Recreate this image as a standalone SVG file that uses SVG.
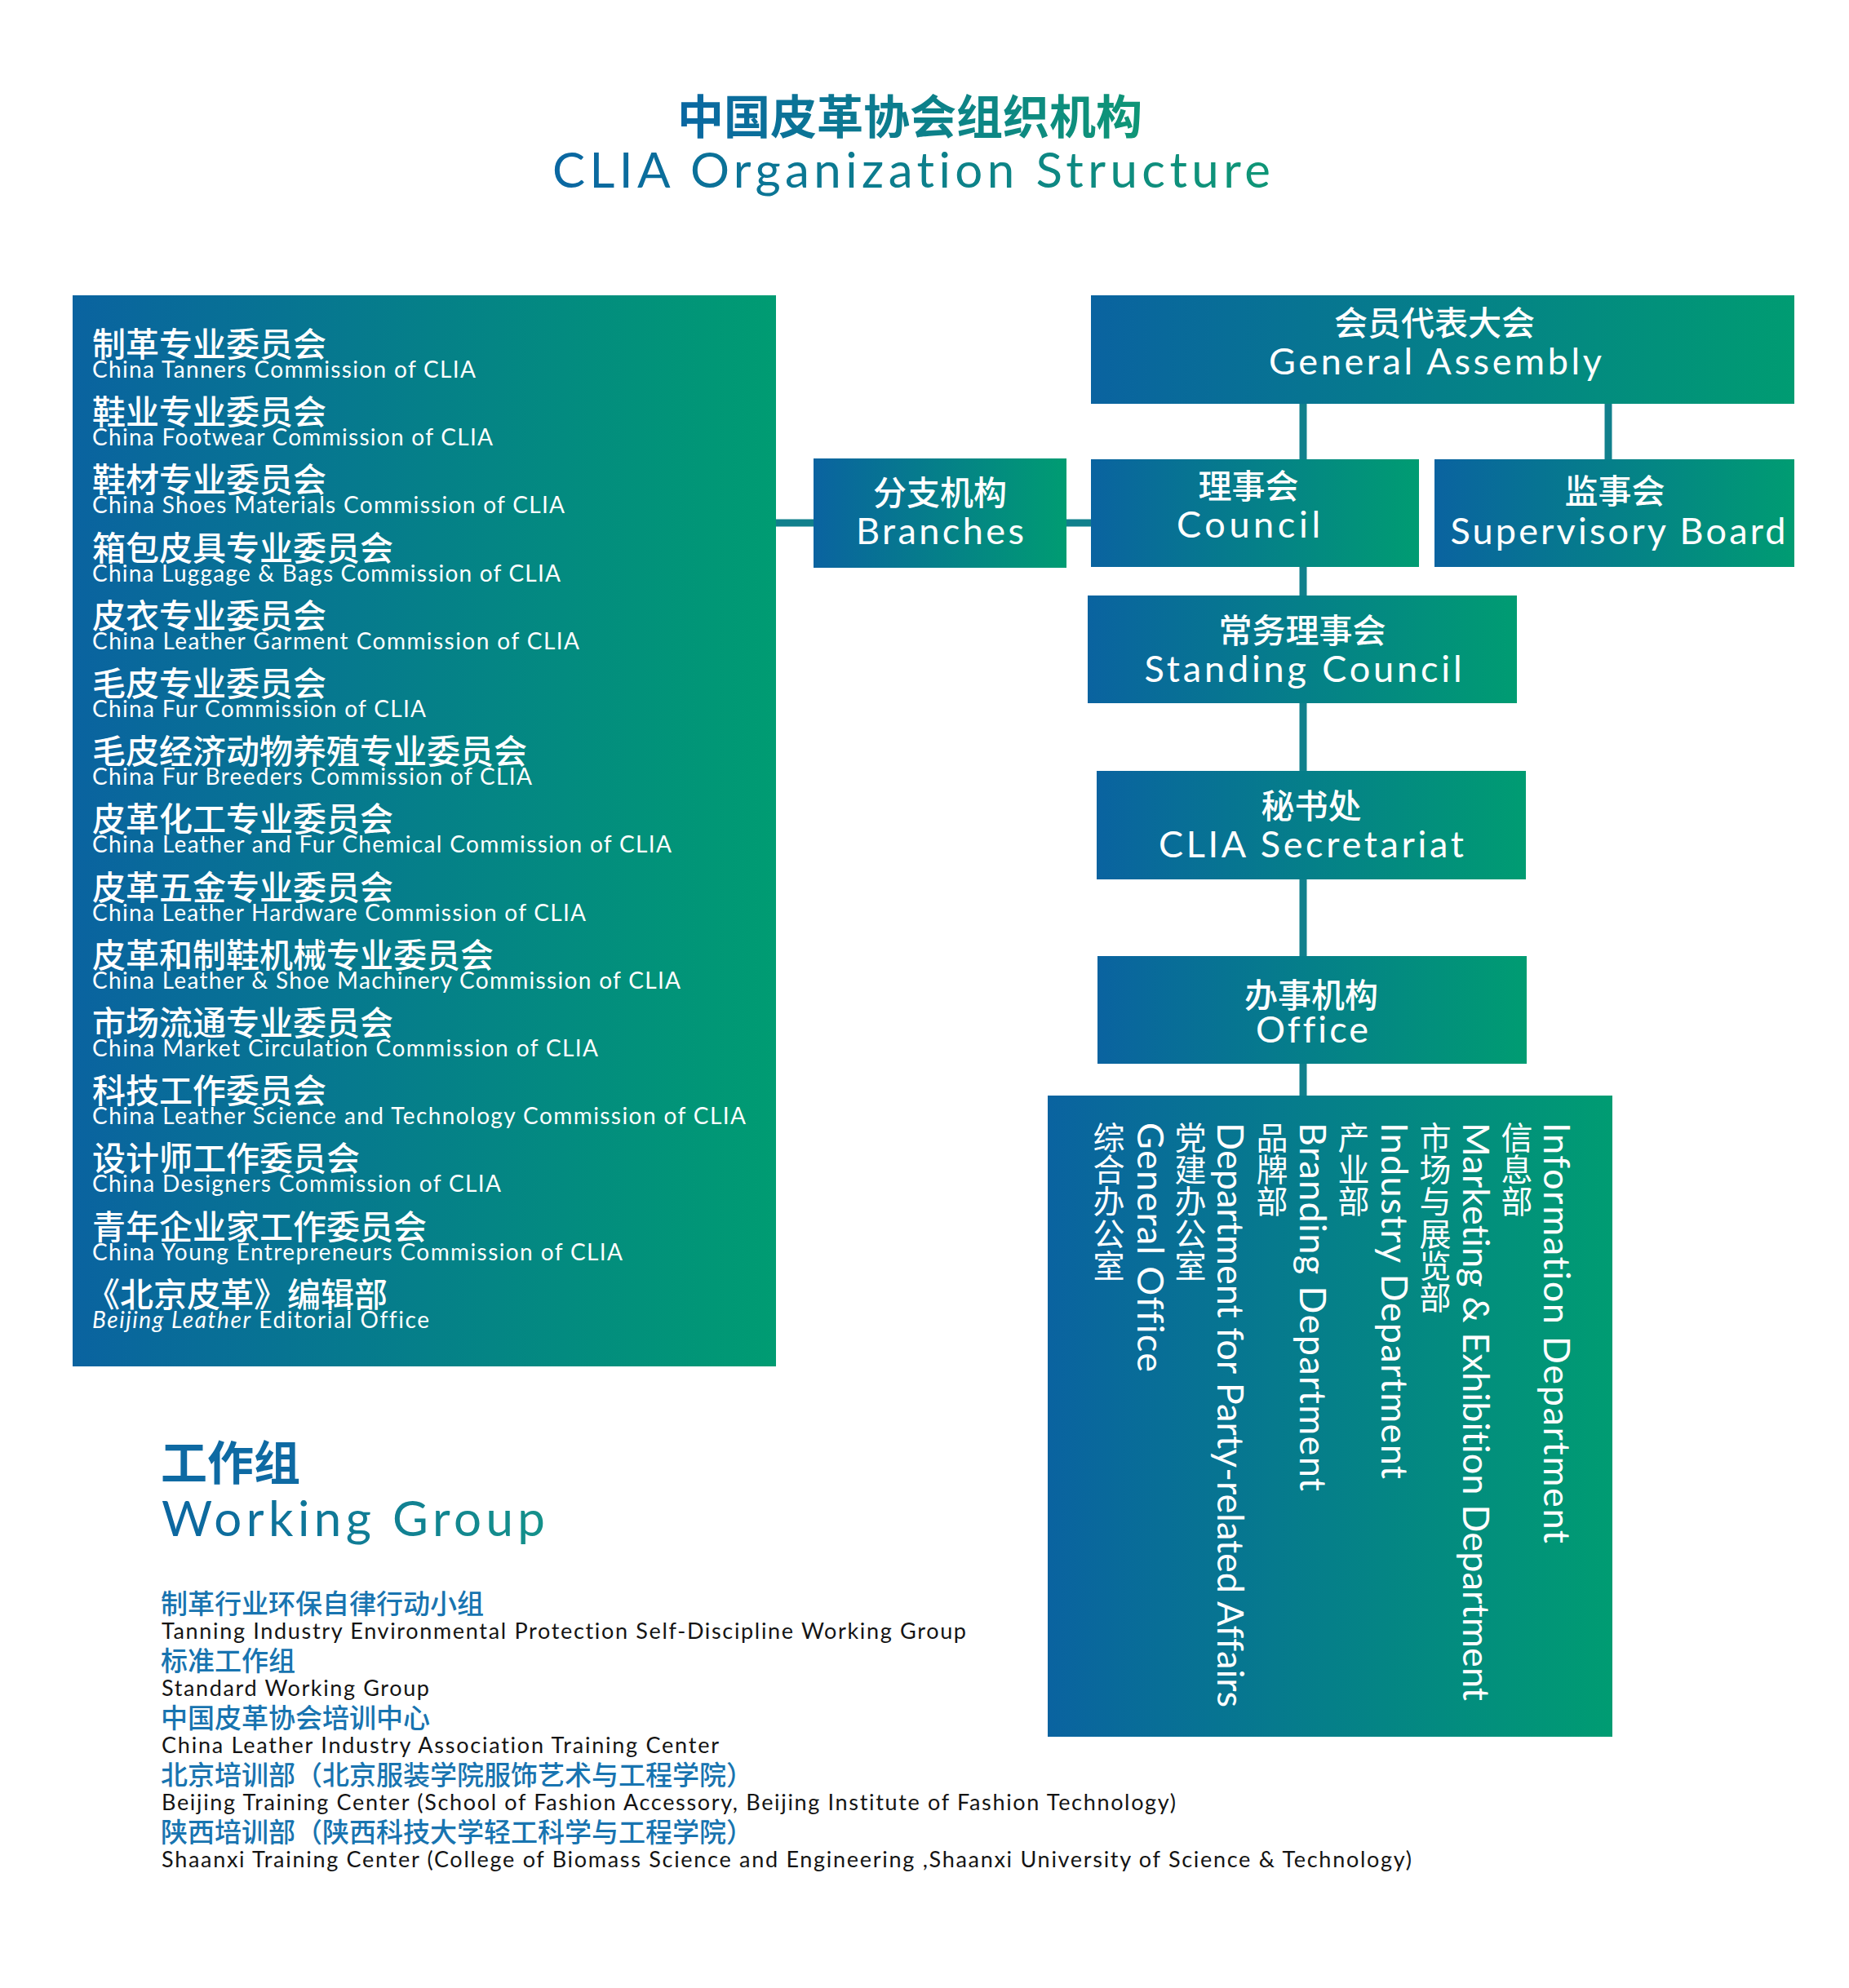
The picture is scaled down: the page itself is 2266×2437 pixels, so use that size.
<svg xmlns="http://www.w3.org/2000/svg" width="2266" height="2437" viewBox="0 0 2266 2437">
<defs>
<linearGradient id="bg" x1="0" y1="0" x2="1" y2="0"><stop offset="0" stop-color="#0a63a0"/><stop offset="1" stop-color="#009c72"/></linearGradient>
<linearGradient id="tg" x1="0" y1="0" x2="1" y2="0"><stop offset="0" stop-color="#0a67a2"/><stop offset="1" stop-color="#0f9676"/></linearGradient>
<linearGradient id="wg" x1="0" y1="0" x2="1" y2="0"><stop offset="0" stop-color="#0c66a1"/><stop offset="1" stop-color="#14918a"/></linearGradient>
<style>
text{font-variant-ligatures:none}
.box{fill:url(#bg)}
.cn{font-family:"Noto Sans CJK SC",sans-serif;fill:#fff}
.en{font-family:"Lato","Noto Sans",sans-serif;fill:#fff}
.bc{font-size:41px;font-weight:500;text-anchor:middle}
.be{font-size:45px;text-anchor:middle}
.lc{font-size:41px;font-weight:500}
.le{font-size:28px}
.dc{font-size:39px;text-anchor:middle}
.de{font-size:45px}
.wc{font-family:"Noto Sans CJK SC",sans-serif;font-size:33px;font-weight:500;fill:#1874b0}
.we{font-family:"Lato","Noto Sans",sans-serif;font-size:27px;fill:#141414}
.conn{stroke:#11808c;stroke-width:9;fill:none}
</style>
</defs>
<rect width="2266" height="2437" fill="#fff"/>

<g id="title">
<text x="1115" y="164" font-family="Noto Sans CJK SC, sans-serif" font-size="57" font-weight="700" fill="url(#tg)" text-anchor="middle">中国皮革协会组织机构</text>
<text x="1117" y="230" font-family="Lato, Noto Sans, sans-serif" font-size="60" fill="url(#tg)" text-anchor="middle" textLength="880" lengthAdjust="spacing">CLIA Organization Structure</text>
</g>

<g id="connectors">
<line class="conn" x1="951" y1="641" x2="997" y2="641"/>
<line class="conn" x1="1307" y1="641" x2="1337" y2="641"/>
<line class="conn" x1="1597" y1="495" x2="1597" y2="563"/>
<line class="conn" x1="1971" y1="495" x2="1971" y2="563"/>
<line class="conn" x1="1597" y1="695" x2="1597" y2="730"/>
<line class="conn" x1="1597" y1="862" x2="1597" y2="945"/>
<line class="conn" x1="1597" y1="1078" x2="1597" y2="1172"/>
<line class="conn" x1="1597" y1="1304" x2="1597" y2="1343"/>
</g>

<g id="node-commissions">
<rect class="box" x="89" y="362" width="862" height="1313"/>
<text class="cn lc" x="113" y="437">制革专业委员会</text>
<text class="en le" x="113" y="463" textLength="470" lengthAdjust="spacing">China Tanners Commission of CLIA</text>
<text class="cn lc" x="113" y="520.2">鞋业专业委员会</text>
<text class="en le" x="113" y="546.2" textLength="491" lengthAdjust="spacing">China Footwear Commission of CLIA</text>
<text class="cn lc" x="113" y="603.4">鞋材专业委员会</text>
<text class="en le" x="113" y="629.4" textLength="579" lengthAdjust="spacing">China Shoes Materials Commission of CLIA</text>
<text class="cn lc" x="113" y="686.6">箱包皮具专业委员会</text>
<text class="en le" x="113" y="712.6" textLength="574" lengthAdjust="spacing">China Luggage &amp; Bags Commission of CLIA</text>
<text class="cn lc" x="113" y="769.8">皮衣专业委员会</text>
<text class="en le" x="113" y="795.8" textLength="597" lengthAdjust="spacing">China Leather Garment Commission of CLIA</text>
<text class="cn lc" x="113" y="853">毛皮专业委员会</text>
<text class="en le" x="113" y="879" textLength="409" lengthAdjust="spacing">China Fur Commission of CLIA</text>
<text class="cn lc" x="113" y="936.2">毛皮经济动物养殖专业委员会</text>
<text class="en le" x="113" y="962.2" textLength="539" lengthAdjust="spacing">China Fur Breeders Commission of CLIA</text>
<text class="cn lc" x="113" y="1019.4">皮革化工专业委员会</text>
<text class="en le" x="113" y="1045.4" textLength="710" lengthAdjust="spacing">China Leather and Fur Chemical Commission of CLIA</text>
<text class="cn lc" x="113" y="1102.6">皮革五金专业委员会</text>
<text class="en le" x="113" y="1128.6" textLength="605" lengthAdjust="spacing">China Leather Hardware Commission of CLIA</text>
<text class="cn lc" x="113" y="1185.8">皮革和制鞋机械专业委员会</text>
<text class="en le" x="113" y="1211.8" textLength="721" lengthAdjust="spacing">China Leather &amp; Shoe Machinery Commission of CLIA</text>
<text class="cn lc" x="113" y="1269">市场流通专业委员会</text>
<text class="en le" x="113" y="1295" textLength="620" lengthAdjust="spacing">China Market Circulation Commission of CLIA</text>
<text class="cn lc" x="113" y="1352.2">科技工作委员会</text>
<text class="en le" x="113" y="1378.2" textLength="801" lengthAdjust="spacing">China Leather Science and Technology Commission of CLIA</text>
<text class="cn lc" x="113" y="1435.4">设计师工作委员会</text>
<text class="en le" x="113" y="1461.4" textLength="501" lengthAdjust="spacing">China Designers Commission of CLIA</text>
<text class="cn lc" x="113" y="1518.6">青年企业家工作委员会</text>
<text class="en le" x="113" y="1544.6" textLength="650" lengthAdjust="spacing">China Young Entrepreneurs Commission of CLIA</text>
<text class="cn lc" x="106" y="1601.8">《北京皮革》编辑部</text>
<text class="en le" x="113" y="1627.8" textLength="413" lengthAdjust="spacing"><tspan font-style="italic">Beijing Leather</tspan> Editorial Office</text>
</g>

<g id="node-branches">
<rect class="box" x="997" y="562" width="310" height="134"/>
<text class="cn bc" x="1152" y="619">分支机构</text>
<text class="en be" x="1152" y="667" textLength="206" lengthAdjust="spacing">Branches</text>
</g>

<g id="node-general-assembly">
<rect class="box" x="1337" y="362" width="862" height="133"/>
<text class="cn bc" x="1758" y="411">会员代表大会</text>
<text class="en be" x="1759" y="459" textLength="408" lengthAdjust="spacing">General Assembly</text>
</g>

<g id="node-council">
<rect class="box" x="1337" y="563" width="402" height="132"/>
<text class="cn bc" x="1530" y="611">理事会</text>
<text class="en be" x="1530" y="659" textLength="176" lengthAdjust="spacing">Council</text>
</g>

<g id="node-supervisory-board">
<rect class="box" x="1758" y="563" width="441" height="132"/>
<text class="cn bc" x="1979" y="617">监事会</text>
<text class="en be" x="1983" y="667" textLength="411" lengthAdjust="spacing">Supervisory Board</text>
</g>

<g id="node-standing-council">
<rect class="box" x="1333" y="730" width="526" height="132"/>
<text class="cn bc" x="1596" y="788">常务理事会</text>
<text class="en be" x="1597" y="836" textLength="389" lengthAdjust="spacing">Standing Council</text>
</g>

<g id="node-secretariat">
<rect class="box" x="1344" y="945" width="526" height="133"/>
<text class="cn bc" x="1607" y="1003">秘书处</text>
<text class="en be" x="1607" y="1051" textLength="374" lengthAdjust="spacing">CLIA Secretariat</text>
</g>

<g id="node-office">
<rect class="box" x="1345" y="1172" width="526" height="132"/>
<text class="cn bc" x="1607" y="1235">办事机构</text>
<text class="en be" x="1608" y="1278" textLength="138" lengthAdjust="spacing">Office</text>
</g>

<g id="node-departments">
<rect class="box" x="1284" y="1343" width="692" height="786"/>
<text class="en de" transform="translate(1892,1376) rotate(90)" textLength="516" lengthAdjust="spacing">Information Department</text>
<text class="cn dc" x="1859 1859 1859" y="1409 1448.2 1487.4">信息部</text>
<text class="en de" transform="translate(1793,1376) rotate(90)" textLength="709" lengthAdjust="spacing">Marketing &amp; Exhibition Department</text>
<text class="cn dc" x="1759 1759 1759 1759 1759 1759" y="1409 1448.2 1487.4 1526.6 1565.8 1605">市场与展览部</text>
<text class="en de" transform="translate(1693,1376) rotate(90)" textLength="437" lengthAdjust="spacing">Industry Department</text>
<text class="cn dc" x="1659 1659 1659" y="1409 1448.2 1487.4">产业部</text>
<text class="en de" transform="translate(1593,1376) rotate(90)" textLength="452" lengthAdjust="spacing">Branding Department</text>
<text class="cn dc" x="1559 1559 1559" y="1409 1448.2 1487.4">品牌部</text>
<text class="en de" transform="translate(1492,1376) rotate(90)" textLength="717" lengthAdjust="spacing">Department for Party-related Affairs</text>
<text class="cn dc" x="1459 1459 1459 1459 1459" y="1409 1448.2 1487.4 1526.6 1565.8">党建办公室</text>
<text class="en de" transform="translate(1394,1376) rotate(90)" textLength="306" lengthAdjust="spacing">General Office</text>
<text class="cn dc" x="1359 1359 1359 1359 1359" y="1409 1448.2 1487.4 1526.6 1565.8">综合办公室</text>
</g>

<g id="working-group">
<text x="197" y="1814" font-family="Noto Sans CJK SC, sans-serif" font-size="57" font-weight="700" fill="#0e6aa3">工作组</text>
<text x="198" y="1883" font-family="Lato, Noto Sans, sans-serif" font-size="60" fill="url(#wg)" textLength="470" lengthAdjust="spacing">Working Group</text>
<text class="wc" x="197" y="1978">制革行业环保自律行动小组</text>
<text class="we" x="198" y="2009" textLength="986" lengthAdjust="spacing">Tanning Industry Environmental Protection Self-Discipline Working Group</text>
<text class="wc" x="197" y="2048">标准工作组</text>
<text class="we" x="198" y="2079" textLength="328" lengthAdjust="spacing">Standard Working Group</text>
<text class="wc" x="197" y="2118">中国皮革协会培训中心</text>
<text class="we" x="198" y="2149" textLength="683" lengthAdjust="spacing">China Leather Industry Association Training Center</text>
<text class="wc" x="197" y="2188">北京培训部（北京服装学院服饰艺术与工程学院）</text>
<text class="we" x="198" y="2219" textLength="1243" lengthAdjust="spacing">Beijing Training Center (School of Fashion Accessory, Beijing Institute of Fashion Technology)</text>
<text class="wc" x="197" y="2258">陕西培训部（陕西科技大学轻工科学与工程学院）</text>
<text class="we" x="198" y="2289" textLength="1532" lengthAdjust="spacing">Shaanxi Training Center (College of Biomass Science and Engineering ,Shaanxi University of Science &amp; Technology)</text>
</g>
</svg>
